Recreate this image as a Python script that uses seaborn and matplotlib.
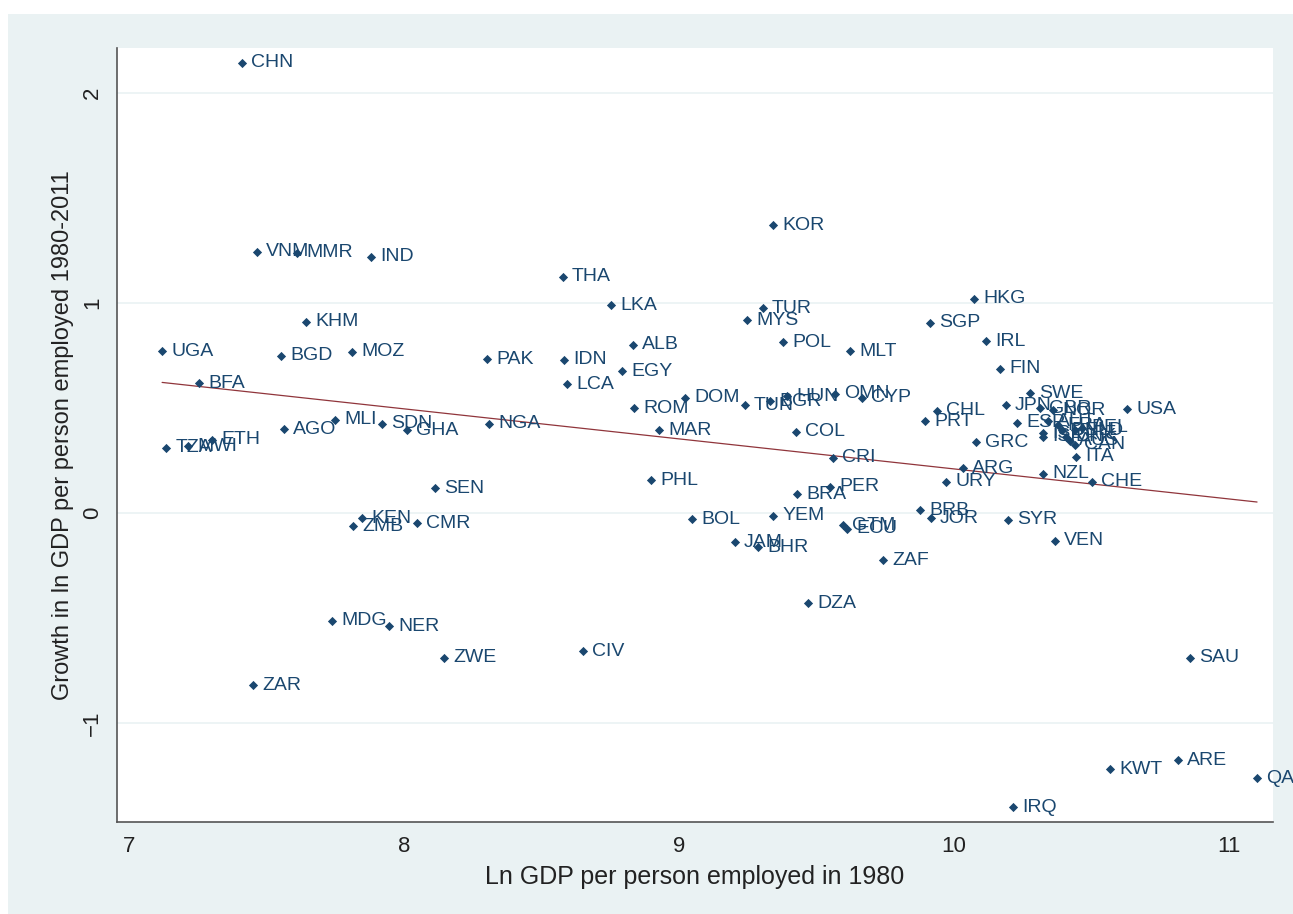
import numpy as np
import pandas as pd
import matplotlib
matplotlib.use("Agg")
import matplotlib.pyplot as plt
import seaborn as sns

# country codes, ln GDP per worker 1980, growth 1980-2011
codes = ["CHN", "KOR", "VNM", "MMR", "IND", "THA", "LKA", "HKG", "TUR", "MYS",
         "KHM", "SGP", "POL", "IRL", "MLT", "UGA", "BGD", "MOZ", "PAK", "IDN",
         "ALB", "EGY", "FIN", "LCA", "BFA", "SWE", "DOM", "ROM", "TUN", "BGR",
         "HUN", "OMN", "CYP", "COL", "MAR", "PRT", "CHL", "GRC", "MLI", "SDN",
         "GHA", "AGO", "NGA", "ETH", "TZA", "MWI", "SEN", "PHL", "CRI", "ARG",
         "URY", "NZL", "CHE", "BRA", "PER", "BOL", "YEM", "JAM", "BHR", "ECU",
         "GTM", "ZAF", "BRB", "JOR", "SYR", "VEN", "KEN", "ZMB", "CMR", "DZA",
         "MDG", "NER", "ZWE", "CIV", "ZAR", "SAU", "KWT", "ARE", "QAT", "IRQ",
         "USA", "JPN", "GBR", "NOR", "ESP", "ISL", "AUT", "FRA", "DEU", "DNK",
         "NLD", "BEL", "CAN", "AUS", "ITA", "ISR"]
ln_gdp_1980 = [7.411, 9.342, 7.465, 7.611, 7.880, 8.578, 8.753, 10.073, 9.305, 9.247,
               7.644, 9.913, 9.378, 10.116, 9.622, 7.120, 7.553, 7.811, 8.302, 8.582,
               8.833, 8.793, 10.167, 8.593, 7.255, 10.276, 9.022, 8.836, 9.240, 9.331,
               9.393, 9.567, 9.665, 9.425, 8.927, 9.895, 9.938, 10.080, 7.749, 7.920,
               8.011, 7.564, 8.309, 7.302, 7.135, 7.215, 8.113, 8.898, 9.560, 10.033,
               9.971, 10.324, 10.502, 9.429, 9.549, 9.047, 9.342, 9.204, 9.287, 9.611,
               9.596, 9.742, 9.876, 9.916, 10.196, 10.367, 7.847, 7.815, 8.047, 9.469,
               7.738, 7.945, 8.145, 8.651, 7.451, 10.858, 10.567, 10.815, 11.102, 10.215,
               10.629, 10.189, 10.313, 10.360, 10.229, 10.324, 10.342, 10.378, 10.393, 10.407,
               10.440, 10.465, 10.440, 10.422, 10.444, 10.324]
growth = [2.143, 1.371, 1.243, 1.238, 1.219, 1.124, 0.990, 1.019, 0.976, 0.919,
          0.910, 0.905, 0.814, 0.819, 0.771, 0.771, 0.748, 0.767, 0.733, 0.729,
          0.800, 0.676, 0.686, 0.614, 0.619, 0.571, 0.548, 0.500, 0.514, 0.533,
          0.557, 0.567, 0.548, 0.386, 0.395, 0.438, 0.486, 0.338, 0.443, 0.424,
          0.395, 0.400, 0.424, 0.348, 0.310, 0.319, 0.119, 0.157, 0.262, 0.214,
          0.148, 0.186, 0.148, 0.090, 0.124, -0.029, -0.014, -0.138, -0.162, -0.076,
          -0.057, -0.224, 0.014, -0.024, -0.033, -0.133, -0.024, -0.062, -0.048, -0.429,
          -0.514, -0.538, -0.690, -0.657, -0.819, -0.690, -1.219, -1.176, -1.262, -1.400,
          0.495, 0.514, 0.500, 0.490, 0.429, 0.381, 0.438, 0.419, 0.395, 0.362,
          0.395, 0.405, 0.324, 0.343, 0.267, 0.362]

# fitted line
fit_intercept = 1.64
fit_slope = -0.143

x_ticks = [7, 8, 9, 10, 11]
y_ticks = [-1, 0, 1, 2]

df = pd.DataFrame({"code": codes, "x": ln_gdp_1980, "y": growth})

navy = "#1a476f"
bg = "#eaf2f3"

sns.set_style("white")
plt.rcParams["font.family"] = ["Liberation Sans", "DejaVu Sans"]

fig = plt.figure(figsize=(12.93, 9.14), dpi=100, facecolor="white")
fig.patches.append(plt.Rectangle((8 / 1293, 0), 1, 1 - 14 / 914,
                                 transform=fig.transFigure, facecolor=bg,
                                 edgecolor="none", zorder=-10))
ax = fig.add_axes([117 / 1293, 1 - 822 / 914, (1273 - 117) / 1293, (822 - 48) / 914])
ax.set_facecolor("white")

for t in y_ticks:
    ax.axhline(t, color=bg, lw=1.2, zorder=0)

sns.scatterplot(data=df, x="x", y="y", marker="D", s=22, color=navy,
                edgecolor=navy, linewidth=0, ax=ax, zorder=3)

for c, xv, yv in zip(df["code"], df["x"], df["y"]):
    ax.annotate(c, (xv, yv), xytext=(6.5, 0), textcoords="offset points",
                va="center", ha="left", fontsize=14, color=navy, zorder=4)

xf = np.array([df["x"].min(), df["x"].max()])
ax.plot(xf, fit_intercept + fit_slope * xf, color="#90353b", lw=0.9, zorder=2)

ax.set_xlim(6.956, 11.16)
ax.set_ylim(-1.471, 2.214)
ax.set_xticks(x_ticks)
ax.set_yticks(y_ticks)
ax.tick_params(axis="both", direction="out", length=6, width=1, color="#555555",
               labelsize=16, labelcolor="#222222", pad=4)
for lab in ax.get_yticklabels():
    lab.set_rotation(90)
    lab.set_va("center")

for side in ["top", "right"]:
    ax.spines[side].set_visible(False)
for side in ["left", "bottom"]:
    ax.spines[side].set_color("#555555")
    ax.spines[side].set_linewidth(1.2)

ax.set_xlabel("Ln GDP per person employed in 1980", fontsize=18, color="#222222", labelpad=6)
ax.set_ylabel("Growth in ln GDP per person employed 1980-2011", fontsize=17,
              color="#222222", labelpad=6)

fig.savefig("out.png", dpi=100, facecolor=fig.get_facecolor())
